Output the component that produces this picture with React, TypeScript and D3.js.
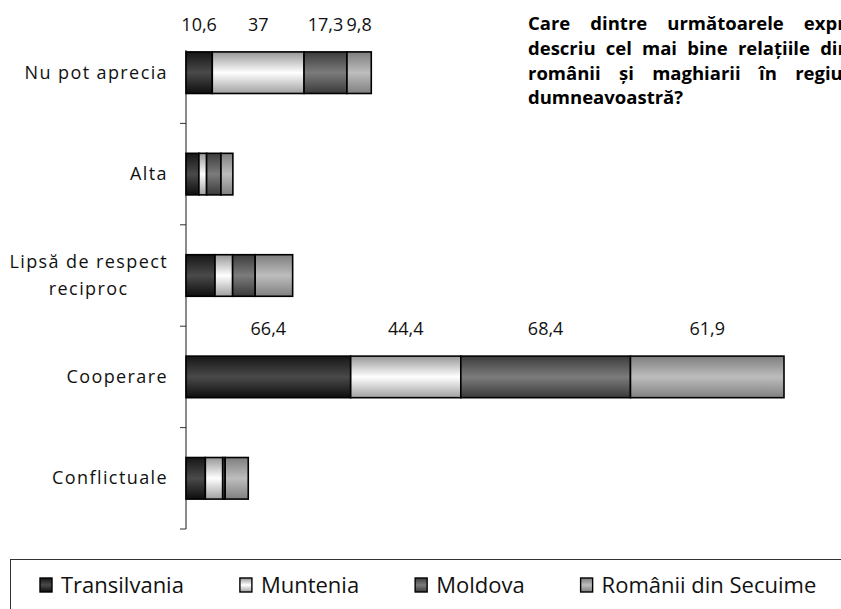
import React from 'react';
import * as d3 from 'd3';

const categories = ['Nu pot aprecia', 'Alta', 'Lipsă de respect reciproc', 'Cooperare', 'Conflictuale'];
const categoryLines = [['Nu pot aprecia'], ['Alta'], ['Lipsă de respect', 'reciproc'], ['Cooperare'], ['Conflictuale']];
const seriesNames = ['Transilvania', 'Muntenia', 'Moldova', 'Românii din Secuime'];
const transilvania = [10.6, 5.2, 11.7, 66.4, 7.8];
const muntenia = [37, 3.1, 7.1, 44.4, 7.0];
const moldova = [17.3, 5.8, 9.1, 68.4, 1.0];
const secuime = [9.8, 4.8, 15.1, 61.9, 9.3];
const labeledCategories = ['Nu pot aprecia', 'Cooperare'];
const titleLines = [
  'Care dintre următoarele expresii',
  'descriu cel mai bine relațiile dintre',
  'românii și maghiarii în regiunea',
  'dumneavoastră?',
];
// gradient stops per series: [edge, centre, edge]
const seriesShades = [
  ['#161616', '#4a4a4a', '#0e0e0e'],
  ['#979797', '#ffffff', '#a0a0a0'],
  ['#3c3c3c', '#7c7c7c', '#3a3a3a'],
  ['#7e7e7e', '#bdbdbd', '#808080'],
];

const W = 841;
const H = 609;
const FONT = "'Open Sans', 'DejaVu Sans', sans-serif";

let ctx: CanvasRenderingContext2D | null = null;
function measure(text: string, font: string, ls = 0) {
  if (!ctx) ctx = document.createElement('canvas').getContext('2d');
  ctx!.font = font;
  return ctx!.measureText(text).width + ls * text.length;
}

export default function App() {
  const seriesValues = [transilvania, muntenia, moldova, secuime];
  const rows = categories.map((c, i) => {
    const r: any = { category: c };
    seriesNames.forEach((s, j) => (r[s] = seriesValues[j][i]));
    return r;
  });
  const stacked = d3.stack().keys(seriesNames)(rows);
  const maxTotal = d3.max(rows, (r: any) => d3.sum(seriesNames, (s) => r[s])) as number;

  const x = d3.scaleLinear().domain([0, maxTotal]).range([186, 784]);
  const y = d3.scaleBand().domain(categories).range([22, 529]).padding(0);
  const barH = y.step() * 0.41;
  const barY = (c: string) => (y(c) as number) + y.bandwidth() / 2 - barH / 2;

  const catSize = 18;
  const catFont = `${catSize}px ${FONT}`;
  const catLS = 1.4;
  const labelRight = 168;

  // title justification
  const titleSize = 18.5;
  const titleFont = `bold ${titleSize}px ${FONT}`;
  const titleLeft = 528;
  const titleRight = 877;
  const titleY0 = 30;
  const titleStep = 24.8;

  // legend
  const legFont = `22px ${FONT}`;
  let lx = 40;
  const legendItems = seriesNames.map((s, i) => {
    const item = { name: s, x: lx, i };
    lx += 21 + measure(s, legFont) + 56;
    return item;
  });

  return (
    <svg width={W} height={H} style={{ position: 'absolute', left: 0, top: 0, background: '#fff' }}>
      <defs>
        {seriesShades.map((sh, i) => (
          <linearGradient key={i} id={`g${i}`} x1="0" y1="0" x2="0" y2="1">
            <stop offset="0" stopColor={sh[0]} />
            <stop offset="0.5" stopColor={sh[1]} />
            <stop offset="1" stopColor={sh[2]} />
          </linearGradient>
        ))}
      </defs>

      {/* axis */}
      <line x1={186} x2={186} y1={50} y2={529} stroke="#8a8a8a" strokeWidth={2} />
      {categories.map((c) => {
        const ty = (y(c) as number) + y.step();
        return <line key={c} x1={180} x2={186} y1={ty} y2={ty} stroke="#333" strokeWidth={1} />;
      })}

      {/* bars */}
      {stacked.map((layer, si) =>
        layer.map((d: any, ci) => (
          <rect
            key={`${si}-${ci}`}
            x={x(d[0])}
            y={barY(categories[ci])}
            width={Math.max(0, x(d[1]) - x(d[0]))}
            height={barH}
            fill={`url(#g${si})`}
            stroke="#000"
            strokeWidth={1.6}
          />
        ))
      )}

      {/* data labels */}
      {stacked.map((layer, si) =>
        layer.map((d: any, ci) =>
          labeledCategories.includes(categories[ci]) ? (
            <text
              key={`l${si}-${ci}`}
              x={(x(d[0]) + x(d[1])) / 2}
              y={barY(categories[ci]) - 21}
              textAnchor="middle"
              fontFamily={FONT}
              fontSize={18}
              fill="#111"
            >
              {String(seriesValues[si][ci]).replace('.', ',')}
            </text>
          ) : null
        )
      )}

      {/* category labels */}
      {categoryLines.map((lines, ci) => {
        const cy = (y(categories[ci]) as number) + y.bandwidth() / 2;
        const maxW = d3.max(lines, (l) => measure(l, catFont, catLS)) as number;
        const cx = labelRight - maxW / 2;
        return lines.map((l, li) => (
          <text
            key={`c${ci}-${li}`}
            x={lines.length > 1 ? cx : labelRight}
            y={cy + 6 + (li - (lines.length - 1) / 2) * 27}
            textAnchor={lines.length > 1 ? 'middle' : 'end'}
            fontFamily={FONT}
            fontSize={catSize}
            letterSpacing={catLS}
            fill="#111"
          >
            {l}
          </text>
        ));
      })}

      {/* title (justified, running past the right edge as in the source) */}
      {titleLines.map((line, li) => {
        const words = line.split(' ');
        const widths = words.map((w) => measure(w, titleFont));
        const last = li === titleLines.length - 1;
        const gap = last || words.length < 2
          ? measure(' ', titleFont)
          : (titleRight - titleLeft - d3.sum(widths)) / (words.length - 1);
        let cx = titleLeft;
        return words.map((w, wi) => {
          const el = (
            <text
              key={`t${li}-${wi}`}
              x={cx}
              y={titleY0 + li * titleStep}
              fontFamily={FONT}
              fontSize={titleSize}
              fontWeight="bold"
              fill="#000"
            >
              {w}
            </text>
          );
          cx += widths[wi] + gap;
          return el;
        });
      })}

      {/* legend */}
      <rect x={10.5} y={559.5} width={900} height={100} fill="none" stroke="#333" strokeWidth={1} />
      {legendItems.map((it) => (
        <g key={it.name}>
          <rect x={it.x} y={578} width={12} height={14} fill={`url(#g${it.i})`} stroke="#000" strokeWidth={1.4} />
          <text x={it.x + 21} y={593} fontFamily={FONT} fontSize={22} fill="#111">
            {it.name}
          </text>
        </g>
      ))}
    </svg>
  );
}
